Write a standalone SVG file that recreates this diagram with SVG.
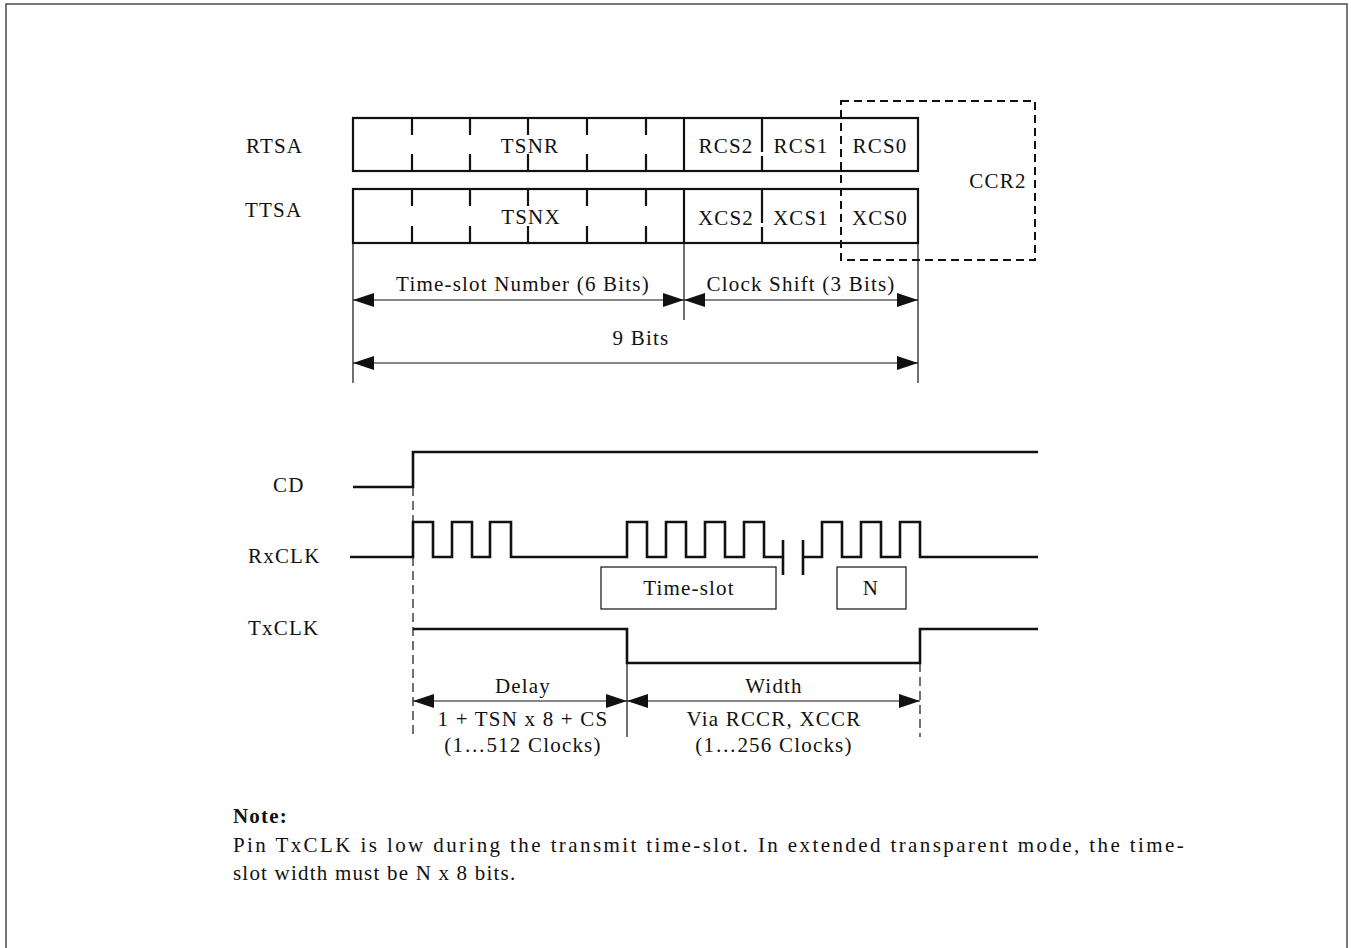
<svg xmlns="http://www.w3.org/2000/svg" width="1351" height="948" viewBox="0 0 1351 948">
<style>
text{font-family:"Liberation Serif","Times New Roman",serif;font-size:21px;fill:#111;letter-spacing:1.2px}
.m{text-anchor:middle}
.reg{fill:none;stroke:#111;stroke-width:2.2}
.tick{stroke:#111;stroke-width:2.2}
.ext{stroke:#111;stroke-width:1.2;fill:none}
.dim{stroke:#111;stroke-width:1.2;fill:none;marker-start:url(#ah);marker-end:url(#ah)}
.wave{fill:none;stroke:#111;stroke-width:2.6}
.box{fill:#fff;stroke:#111;stroke-width:1.2}
.dash{fill:none;stroke:#111;stroke-width:2;stroke-dasharray:8,5}
.vdash{stroke:#111;stroke-width:1.2;stroke-dasharray:9,5}
</style>
<defs>
<marker id="ah" viewBox="0 0 21 14" refX="21" refY="7" markerWidth="21" markerHeight="14" markerUnits="userSpaceOnUse" orient="auto-start-reverse">
<path d="M0,0 L21,7 L0,14 Z" fill="#111"/>
</marker>
</defs>
<rect x="6" y="4" width="1341" height="960" fill="#fff" stroke="#555" stroke-width="1.6"/>

<g id="labels">
<text x="246" y="153">RTSA</text>
<text x="245" y="217">TTSA</text>
<text x="273" y="492">CD</text>
<text x="248" y="563">RxCLK</text>
<text x="248" y="635">TxCLK</text>
</g>

<g id="rtsa">
<rect class="reg" x="353" y="118" width="565" height="53"/>
<path class="tick" d="M412 118v17M412 154v17M470 118v17M470 154v17M528 118v17M528 154v17M587 118v17M587 154v17M646 118v17M646 154v17"/>
<path class="tick" d="M684 118V171M762 118V152M762 156V171"/>
<text class="m" x="530" y="153">TSNR</text>
<text class="m" x="726" y="153">RCS2</text>
<text class="m" x="801" y="153">RCS1</text>
<text class="m" x="880" y="153">RCS0</text>
</g>

<g id="ttsa">
<rect class="reg" x="353" y="189" width="565" height="54"/>
<path class="tick" d="M412 189v17M412 226v17M470 189v17M470 226v17M528 189v17M528 226v17M587 189v17M587 226v17M646 189v17M646 226v17"/>
<path class="tick" d="M684 189V243M762 189V223M762 227V243"/>
<text class="m" x="531" y="224">TSNX</text>
<text class="m" x="726" y="225">XCS2</text>
<text class="m" x="801" y="225">XCS1</text>
<text class="m" x="880" y="225">XCS0</text>
</g>

<g id="ccr2">
<rect class="dash" x="841" y="101" width="194" height="159"/>
<text class="m" x="998" y="188">CCR2</text>
</g>

<g id="connectors">
<path class="ext" d="M353 243V383M684 243V320M918 243V383"/>
<line class="dim" x1="353" y1="300" x2="684" y2="300"/>
<line class="dim" x1="684" y1="300" x2="918" y2="300"/>
<line class="dim" x1="353" y1="363" x2="918" y2="363"/>
<line class="vdash" x1="413" y1="487" x2="413" y2="737"/>
<line class="vdash" x1="920" y1="663" x2="920" y2="737"/>
<path class="ext" d="M627 663V737"/>
<line class="dim" x1="413" y1="701" x2="627" y2="701"/>
<line class="dim" x1="627" y1="701" x2="920" y2="701"/>
</g>

<g id="dimtext">
<text class="m" x="523" y="291">Time-slot Number (6 Bits)</text>
<text class="m" x="801" y="291">Clock Shift (3 Bits)</text>
<text class="m" x="641" y="345">9 Bits</text>
<text class="m" x="523" y="693">Delay</text>
<text class="m" x="523" y="726">1 + TSN x 8 + CS</text>
<text class="m" x="523" y="752">(1…512 Clocks)</text>
<text class="m" x="774" y="693">Width</text>
<text class="m" x="774" y="726">Via RCCR, XCCR</text>
<text class="m" x="774" y="752">(1…256 Clocks)</text>
</g>

<g id="cd">
<path class="wave" d="M353 487H413V452H1038"/>
</g>

<g id="rxclk">
<path class="wave" d="M350 557H413V522H433V557H452V522H472V557H490V522H511V557H627V522H647V557H666V522H686V557H705V522H725V557H744V522H764V557H783"/>
<path class="wave" d="M783 540V575M803 540V575"/>
<path class="wave" d="M803 557H822V522H842V557H861V522H881V557H900V522H920V557H1038"/>
</g>

<g id="timeslot">
<rect class="box" x="601" y="567" width="175" height="42"/>
<text class="m" x="689" y="595">Time-slot</text>
</g>
<g id="n">
<rect class="box" x="837" y="567" width="69" height="42"/>
<text class="m" x="871" y="595">N</text>
</g>

<g id="txclk">
<path class="wave" d="M413 629H627V663H920V629H1038"/>
</g>

<g id="note">
<text x="233" y="823" style="font-weight:bold">Note:</text>
<text x="233" y="852" textLength="952" lengthAdjust="spacing">Pin TxCLK is low during the transmit time-slot. In extended transparent mode, the time-</text>
<text x="233" y="880">slot width must be N x 8 bits.</text>
</g>
</svg>
